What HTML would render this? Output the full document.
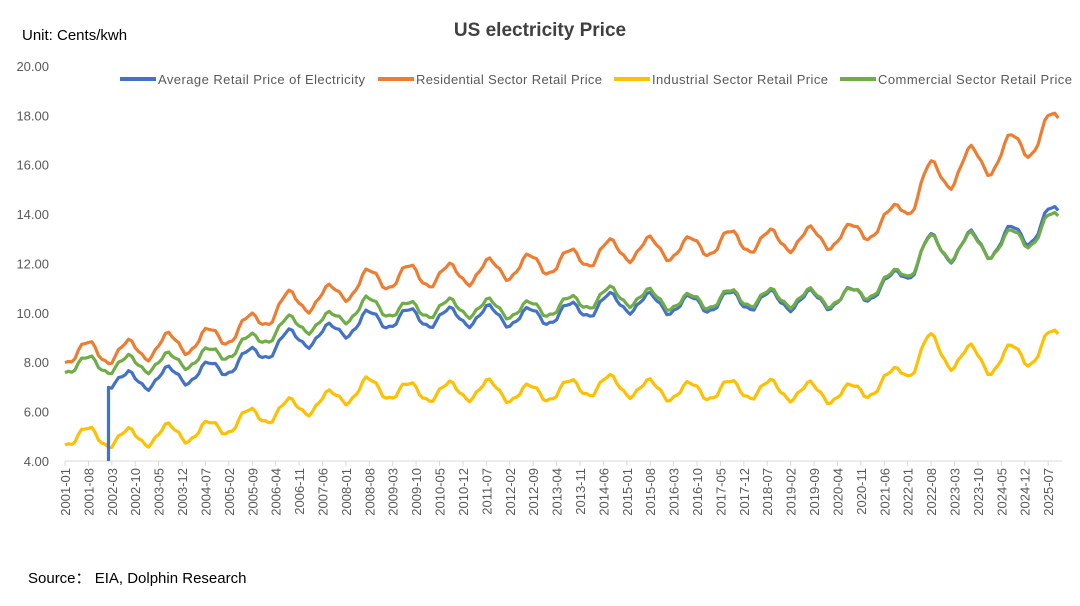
<!DOCTYPE html>
<html><head><meta charset="utf-8"><style>
html,body{margin:0;padding:0;background:#fff}
svg{display:block;font-family:"Liberation Sans",sans-serif}
</style></head><body>
<svg id="c" width="1080" height="606" xmlns="http://www.w3.org/2000/svg">
<rect width="1080" height="606" fill="#fff"/>
<text x="540" y="36" text-anchor="middle" font-size="19" font-weight="bold" fill="#404040">US electricity Price</text>
<text x="22" y="40" font-size="15" fill="#000">Unit: Cents/kwh</text>
<text x="28" y="583" font-size="15" fill="#000">Source：  EIA, Dolphin Research</text>
<g font-size="13" fill="#595959">
<line x1="120" y1="79" x2="156" y2="79" stroke="#4472C4" stroke-width="4"/><text x="158" y="84" textLength="207">Average Retail Price of Electricity</text>
<line x1="378" y1="79" x2="414" y2="79" stroke="#ED7D31" stroke-width="4"/><text x="416" y="84" textLength="186">Residential Sector Retail Price</text>
<line x1="614" y1="79" x2="650" y2="79" stroke="#FFC000" stroke-width="4"/><text x="652" y="84" textLength="176">Industrial Sector Retail Price</text>
<line x1="840" y1="79" x2="876" y2="79" stroke="#70AD47" stroke-width="4"/><text x="878" y="84" textLength="194">Commercial Sector Retail Price</text>
</g>
<g id="g"></g>
</svg>
<script>
var g=document.getElementById('g'),NS='http://www.w3.org/2000/svg';
function el(t,a,txt){var e=document.createElementNS(NS,t);for(var k in a)e.setAttribute(k,a[k]);if(txt)e.textContent=txt;g.appendChild(e);return e;}
var X0=65,DX=3.344,Y=function(v){return 461-(v-4)*24.69;};
for(var v=4;v<=20;v+=2){el('text',{x:49,y:Y(v)+5,'text-anchor':'end','font-size':13,fill:'#595959'},v.toFixed(2));}
el('line',{x1:X0,y1:461,x2:1062,y2:461,stroke:'#d9d9d9','stroke-width':1});
var N=298;
for(var i=0;i<=294;i+=7){var x=X0+i*DX;var y=2001+Math.floor(i/12),m=i%12+1;
el('line',{x1:x,y1:461,x2:x,y2:466,stroke:'#d9d9d9'});
el('text',{transform:'translate('+(x+5)+',468) rotate(-90)','text-anchor':'end','font-size':13,fill:'#595959'},y+'-'+(m<10?'0':'')+m);}
var res=[8.4,8.4,8.7,8.9,9.4,10.4,10.6,11.3,11.5,11.5,11.7,11.9,12.1,12.5,12.6,12.6,12.9,12.9,13.0,13.1,13.7,15.4,16.0,16.5,17.4];
var avg=[7.6,7.2,7.4,7.6,8.1,8.9,9.1,9.7,9.8,9.8,9.9,9.8,10.0,10.4,10.4,10.3,10.5,10.5,10.5,10.6,11.1,12.6,12.7,12.9,13.7];
var com=[7.9,7.9,8.0,8.2,8.7,9.5,9.6,10.3,10.1,10.2,10.2,10.1,10.3,10.7,10.6,10.4,10.6,10.6,10.6,10.6,11.2,12.6,12.7,12.8,13.5];
var ind=[5.0,4.9,5.1,5.2,5.7,6.1,6.4,7.0,6.8,6.8,6.9,6.7,6.9,7.1,6.9,6.8,6.9,6.9,6.8,6.7,7.2,8.6,8.1,8.1,8.7];
function val(arr,i,amp){var t=i/12-0.5;var k=Math.floor(t);var f=t-k;var a=arr[Math.max(0,Math.min(24,k))],b=arr[Math.max(0,Math.min(24,k+1))];
var base=a+(b-a)*f;if(t>24)base=arr[24]+(t-24)*0.6;var yr=Math.floor(i/12);var A=amp*(yr>=21?1.5:1);
return base+A*Math.cos(2*Math.PI*((i%12)-6.8)/12)+0.08*Math.sin(i*1.7);}
function series(arr,amp,col,start){var d='';for(var i=start;i<N;i++){var x=X0+i*DX,y=Y(val(arr,i,amp));d+=(i==start?'M':'L')+x.toFixed(1)+','+y.toFixed(1);}
if(start>0)d='M'+(X0+start*DX).toFixed(1)+',461L'+d.slice(1);
el('path',{d:d,fill:'none',stroke:col,'stroke-width':3.2,'stroke-linejoin':'round'});}
series(res,0.45,'#ED7D31',0);
series(ind,0.38,'#FFC000',0);
series(avg,0.38,'#4472C4',13);
series(com,0.35,'#70AD47',0);
</script>
</body></html>
